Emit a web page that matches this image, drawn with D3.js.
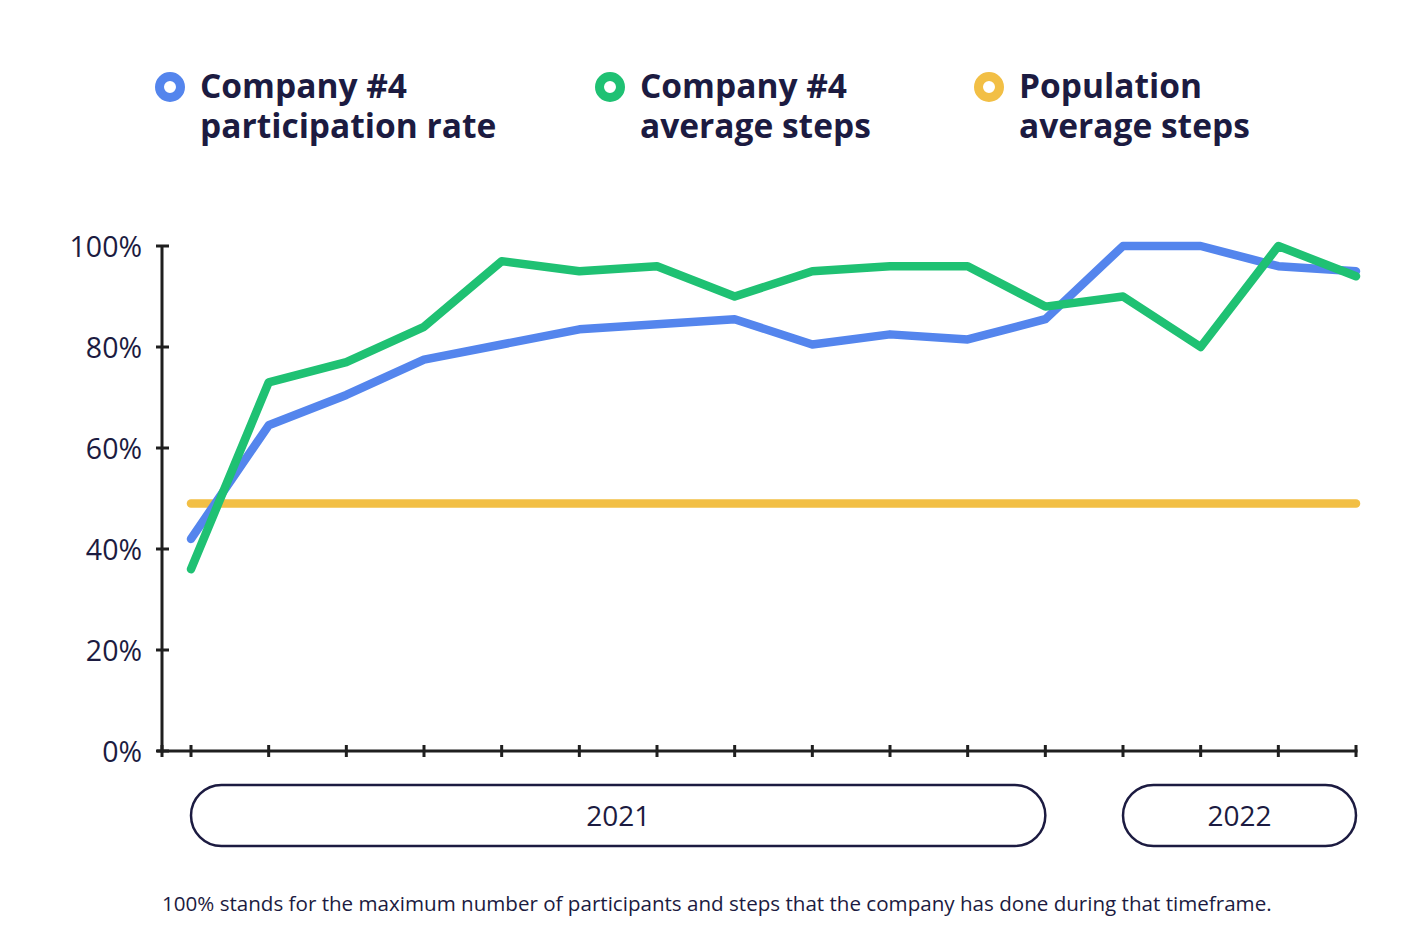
<!DOCTYPE html>
<html>
<head>
<meta charset="utf-8">
<script src="https://cdn.jsdelivr.net/npm/d3@7"></script>
<style>
  html, body { margin: 0; padding: 0; background: #ffffff; }
  svg { display: block; }
  text { font-family: "Open Sans", "DejaVu Sans", sans-serif; }
</style>
</head>
<body>
<svg id="chart" width="1414" height="943"></svg>
<script>
// ---- Data ----
const periods = d3.range(1, 17).map(i => "P" + i);
const participationRate = [42, 64.5, 70.5, 77.5, 80.5, 83.5, 84.5, 85.5, 80.5, 82.5, 81.5, 85.5, 100, 100, 96, 95];
const averageSteps      = [36, 73, 77, 84, 97, 95, 96, 90, 95, 96, 96, 88, 90, 80, 100, 94];
const populationSteps   = [49, 49, 49, 49, 49, 49, 49, 49, 49, 49, 49, 49, 49, 49, 49, 49];
const yTicks = [0, 20, 40, 60, 80, 100];
const yearLabels = ["2021", "2022"];
const yearStart = [0, 12];
const yearEnd = [11, 15];
const legendLine1 = ["Company #4", "Company #4", "Population"];
const legendLine2 = ["participation rate", "average steps", "average steps"];
const footnote = "100% stands for the maximum number of participants and steps that the company has done during that timeframe.";

const colors = ["#5485ED", "#1FC173", "#F2BF45"];
const ink = "#1C1B41";
const axisInk = "#1f1f1f";

const svg = d3.select("#chart");

const x = d3.scalePoint().domain(periods).range([191, 1356]);
const y = d3.scaleLinear().domain([0, 100]).range([751, 246]);

// fit text helper
function fit(sel, target) {
  sel.each(function() {
    const t = d3.select(this);
    const fs = parseFloat(t.attr("font-size"));
    const w = this.getComputedTextLength();
    if (w > 0) t.attr("font-size", (fs * target / w).toFixed(2));
  });
}

// ---- Axes ----
const yAxis = d3.axisLeft(y).tickValues(yTicks).tickSize(0).tickFormat(d => d + "%");
const gy = svg.append("g").attr("transform", "translate(162,0)").call(yAxis);
gy.select(".domain").remove();
gy.selectAll("text").attr("x", -20).attr("dy", "0.36em").attr("fill", ink)
  .attr("font-size", 28.5).style("font-family", '"Open Sans", sans-serif');

svg.append("line").attr("x1", 162).attr("x2", 162).attr("y1", y(100)).attr("y2", y(0) + 1.5)
  .attr("stroke", axisInk).attr("stroke-width", 3);
svg.selectAll(".ytick").data(yTicks).join("line")
  .attr("x1", 156).attr("x2", 169).attr("y1", d => y(d)).attr("y2", d => y(d))
  .attr("stroke", axisInk).attr("stroke-width", 3);

svg.append("line").attr("x1", 157).attr("x2", x(periods[15]) + 1.5).attr("y1", y(0)).attr("y2", y(0))
  .attr("stroke", axisInk).attr("stroke-width", 3);
svg.selectAll(".xtick").data([null].concat(periods)).join("line")
  .attr("x1", d => d === null ? 162 : x(d)).attr("x2", d => d === null ? 162 : x(d))
  .attr("y1", y(0) - 6).attr("y2", y(0) + 6)
  .attr("stroke", axisInk).attr("stroke-width", 3);

// ---- Lines ----
const line = d3.line().x((d, i) => x(periods[i])).y(d => y(d));
const series = [populationSteps, participationRate, averageSteps];
const seriesColors = [colors[2], colors[0], colors[1]];
svg.selectAll(".series").data(series).join("path")
  .attr("d", d => line(d))
  .attr("fill", "none")
  .attr("stroke", (d, i) => seriesColors[i])
  .attr("stroke-width", 8.5)
  .attr("stroke-linejoin", "round")
  .attr("stroke-linecap", "round");

// ---- Year pills ----
const pills = svg.selectAll(".pill").data(yearLabels).join("g");
pills.append("rect")
  .attr("x", (d, i) => x(periods[yearStart[i]]))
  .attr("y", 785)
  .attr("width", (d, i) => x(periods[yearEnd[i]]) - x(periods[yearStart[i]]))
  .attr("height", 61)
  .attr("rx", 30.5)
  .attr("fill", "none")
  .attr("stroke", ink)
  .attr("stroke-width", 2.5);
pills.append("text")
  .attr("x", (d, i) => (x(periods[yearEnd[i]]) + x(periods[yearStart[i]])) / 2)
  .attr("y", 826)
  .attr("text-anchor", "middle")
  .attr("fill", ink)
  .attr("font-size", 28)
  .text(d => d);

// ---- Legend ----
const legendX = [170, 610, 989];
const lg = svg.selectAll(".legend").data(legendLine1).join("g")
  .attr("transform", (d, i) => `translate(${legendX[i]},0)`);
lg.append("circle").attr("cx", 0).attr("cy", 87).attr("r", 10.5)
  .attr("fill", "none").attr("stroke", (d, i) => colors[i]).attr("stroke-width", 9);
lg.append("text").attr("x", 30).attr("y", 98).attr("fill", ink)
  .attr("font-weight", 700).attr("font-size", 33.5).text(d => d);
lg.append("text").attr("x", 30).attr("y", 138).attr("fill", ink)
  .attr("font-weight", 700).attr("font-size", 33.5).text((d, i) => legendLine2[i]);

// ---- Footnote ----
svg.append("text").attr("x", 162).attr("y", 911).attr("fill", ink).attr("font-size", 18)
  .text(footnote)
  .call(fit, 1110);
</script>
</body>
</html>
